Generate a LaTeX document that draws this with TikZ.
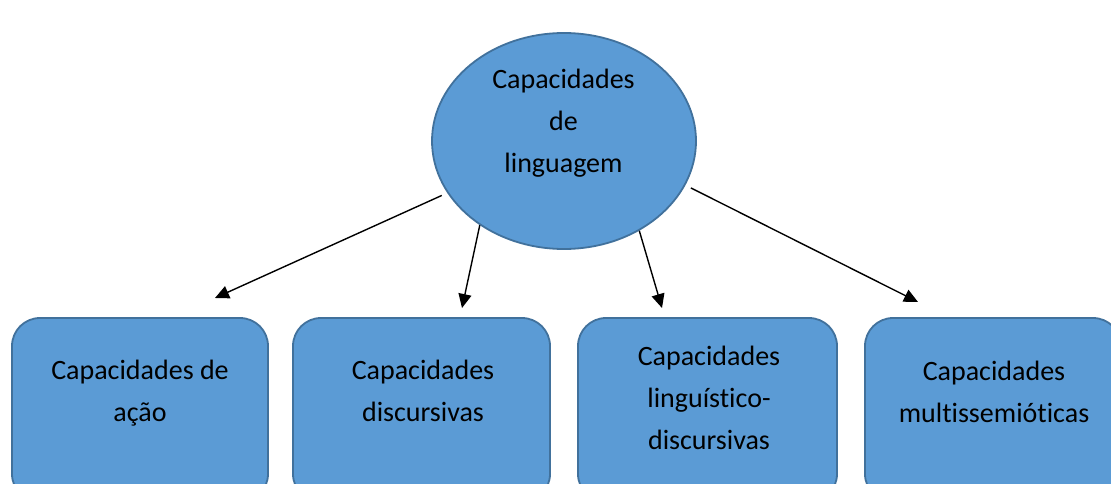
\documentclass[tikz,border=0pt]{standalone}
\usepackage{fontspec}
\setmainfont{Carlito}[Ligatures=NoCommon]
\usepackage{tikz}
\usetikzlibrary{positioning,arrows.meta}
\definecolor{capfill}{RGB}{91,155,213}
\definecolor{capline}{RGB}{65,113,156}
\tikzset{
  cap_n/.style = {ellipse, draw=capline, fill=capfill, line width=1.8pt,
    inner sep=0pt, minimum width=264pt, minimum height=216pt},
  cap_b/.style = {rectangle, rounded corners=28pt, draw=capline, fill=capfill,
    line width=1.8pt, minimum width=256pt, minimum height=184pt},
  cap_t/.style = {align=center, inner sep=0pt, text centered,
    font=\fontsize{28}{42}\selectfont},
  cap_a/.style = {-{Triangle[length=14pt,width=13pt]}, line width=1.4pt, black}
}
\usetikzlibrary{shapes.geometric}
\begin{document}
\begin{tikzpicture}[x=1pt,y=-1pt]
\useasboundingbox (0,0) rectangle (1111,484);
\clip (0,0) rectangle (1111,484);
% raiz
\node [cap_n] (lang) at (564,141) {};
\node [cap_t] (lang_t) at (563.5,123.5) {Capacidades\\de\\linguagem};
% caixas
\node [cap_b] (acao) at (140,410) {};
\node [cap_b, minimum width=257pt] (disc) at (421.5,410) {};
\node [cap_b, minimum width=259pt] (ling) at (707.5,410) {};
\node [cap_b] (mult) at (993,410) {};
\node [cap_t] (acao_t) at (140,393.5) {Capacidades de\\ação};
\node [cap_t] (disc_t) at (423,391) {Capacidades\\discursivas};
\node [cap_t] (ling_t) at (709,397.5) {Capacidades\\linguístico-\\discursivas};
\node [cap_t] (mult_t) at (994,391.5) {Capacidades\\multissemióticas};
% setas
\coordinate (p_acao) at (215,298);
\coordinate (p_disc) at (462,308);
\coordinate (p_ling) at (662,308);
\coordinate (p_mult) at (918,302);
\draw [cap_a, shorten <=6pt] (lang.204) -- (p_acao);
\draw [cap_a] (lang.225) -- (p_disc);
\draw [cap_a] (lang.310) -- (p_ling);
\draw [cap_a, shorten <=6pt] (lang.340) -- (p_mult);
\end{tikzpicture}
\end{document}
